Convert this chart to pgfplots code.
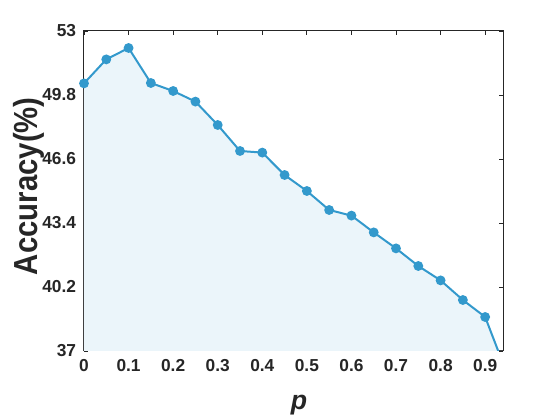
\documentclass[border=0pt]{standalone}
\usepackage{fontspec}
\setmainfont{Liberation Sans}
\newfontfamily\labelfont{Liberation Sans}[FakeStretch=0.88]
\usepackage{pgfplots}
\pgfplotsset{compat=1.18}
\definecolor{lineBlue}{HTML}{3399CC}
\definecolor{fillBlue}{HTML}{EBF5FA}
\definecolor{axisGrey}{HTML}{262626}

\begin{document}
\begin{tikzpicture}
\useasboundingbox (-63pt,-51.75pt) rectangle (357pt,263.25pt);
\begin{axis}[
  scale only axis,
  width=314.25pt, height=240pt,
  xmin=0, xmax=0.94,
  ymin=37, ymax=53,
  xtick={0,0.1,0.2,0.3,0.4,0.5,0.6,0.7,0.8,0.9},
  ytick={37,40.2,43.4,46.6,49.8,53},
  /pgf/number format/assume math mode=true,
  ticklabel style={font=\fontsize{13}{15}\selectfont\bfseries, color=axisGrey},
  xticklabel style={yshift=-3pt},
  yticklabel style={xshift=-2.4pt},
  axis line style={axisGrey, line width=0.75pt},
  tick style={axisGrey, line width=0.6pt},
  major tick length=3pt,
  tick align=inside,
  xlabel={\textbf{\textit{p}}},
  ylabel={\labelfont\bfseries Accuracy(\%)},
  xlabel style={font=\fontsize{20}{24}\selectfont, color=axisGrey,
    at={(axis description cs:0.513,-0.184)}, anchor=base},
  ylabel style={font=\fontsize{25}{30}\selectfont, color=axisGrey,
    at={(axis description cs:-0.1098,0.515)}, anchor=base, rotate=0},
]
\addplot[fill=fillBlue, draw=none, forget plot] coordinates {
  (0,50.38) (0.05,51.58) (0.1,52.15) (0.15,50.40) (0.2,50.00)
  (0.25,49.47) (0.3,48.30) (0.35,47.00) (0.4,46.92) (0.45,45.80)
  (0.5,45.00) (0.55,44.05) (0.6,43.77) (0.65,42.93) (0.7,42.13)
  (0.75,41.25) (0.8,40.53) (0.85,39.55) (0.9,38.70) (0.95,35.80)
} \closedcycle;
\addplot[color=lineBlue, line width=1.5pt, mark=*, mark size=2.9pt,
  mark options={fill=lineBlue, draw=lineBlue}] coordinates {
  (0,50.38) (0.05,51.58) (0.1,52.15) (0.15,50.40) (0.2,50.00)
  (0.25,49.47) (0.3,48.30) (0.35,47.00) (0.4,46.92) (0.45,45.80)
  (0.5,45.00) (0.55,44.05) (0.6,43.77) (0.65,42.93) (0.7,42.13)
  (0.75,41.25) (0.8,40.53) (0.85,39.55) (0.9,38.70) (0.95,35.80)
};
\end{axis}
\end{tikzpicture}
\end{document}
